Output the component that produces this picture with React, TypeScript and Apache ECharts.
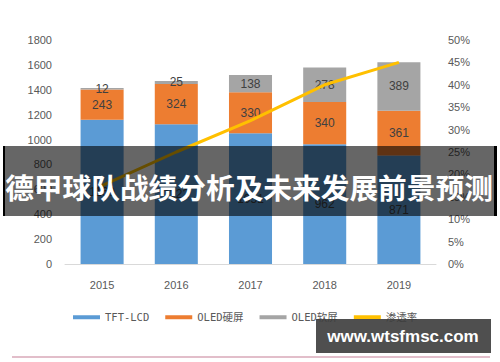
import React, { useEffect, useRef } from "react";
import * as echarts from "echarts";

const years = ["2015", "2016", "2017", "2018", "2019"];
const tftLcd = [1160, 1122, 1051, 962, 871];
const oledHard = [243, 324, 330, 340, 361];
const oledSoft = [12, 25, 138, 278, 389];
const penetration = [17.5, 25, 32, 40, 45];
const seriesNames = ["TFT-LCD", "OLED硬屏", "OLED软屏", "渗透率"];
const bannerTitle = "德甲球队战绩分析及未来发展前景预测";
const watermark = "www.wtsfmsc.com";

export default function App() {
  const ref = useRef<HTMLDivElement>(null);
  useEffect(() => {
    if (!ref.current) return;
    const chart = echarts.init(ref.current, null, { renderer: "svg" });
    const labelStyle = {
      show: true,
      position: "inside" as const,
      color: "#404040",
      fontSize: 12,
      fontFamily: "Liberation Sans, Arial, sans-serif",
    };
    chart.setOption({
      animation: false,
      backgroundColor: "#ffffff",
      grid: { left: 65, right: 64, top: 40, bottom: 98 },
      legend: {
        left: 73,
        top: 312,
        padding: 0,
        itemWidth: 27,
        itemHeight: 4,
        itemGap: 16,
        icon: "rect",
        textStyle: {
          color: "#595959",
          fontSize: 10.5,
          fontFamily: "DejaVu Sans Mono, Noto Sans CJK SC, monospace",
        },
        data: seriesNames,
      },
      xAxis: {
        type: "category",
        data: years,
        axisTick: { show: false },
        axisLine: { lineStyle: { color: "#d9d9d9", width: 1 } },
        axisLabel: { color: "#595959", fontSize: 11, margin: 15, fontFamily: "Liberation Sans, Arial, sans-serif" },
      },
      yAxis: [
        {
          type: "value",
          min: 0,
          max: 1800,
          interval: 200,
          splitLine: { show: false },
          axisLine: { show: false },
          axisTick: { show: false },
          axisLabel: {
            color: "#595959",
            fontSize: 11,
            margin: 13,
            formatter: (v: number) => String(v),
            fontFamily: "Liberation Sans, Arial, sans-serif",
          },
        },
        {
          type: "value",
          min: 0,
          max: 50,
          interval: 5,
          splitLine: { show: false },
          axisLine: { show: false },
          axisTick: { show: false },
          axisLabel: {
            color: "#595959",
            fontSize: 11,
            margin: 12,
            formatter: "{value}%",
            fontFamily: "Liberation Sans, Arial, sans-serif",
          },
        },
      ],
      series: [
        {
          name: seriesNames[0],
          type: "bar",
          stack: "t",
          data: tftLcd,
          barWidth: "58%",
          itemStyle: { color: "#5b9bd5" },
          label: labelStyle,
        },
        {
          name: seriesNames[1],
          type: "bar",
          stack: "t",
          data: oledHard,
          itemStyle: { color: "#ed7d31" },
          label: labelStyle,
        },
        {
          name: seriesNames[2],
          type: "bar",
          stack: "t",
          data: oledSoft,
          itemStyle: { color: "#a5a5a5" },
          label: labelStyle,
        },
        {
          name: seriesNames[3],
          type: "line",
          yAxisIndex: 1,
          data: penetration,
          symbol: "none",
          lineStyle: { color: "#ffc000", width: 3 },
          itemStyle: { color: "#ffc000" },
          z: 5,
        },
      ],
      graphic: [
        {
          type: "rect",
          z: 100,
          shape: { x: 5, y: 146, width: 489, height: 70 },
          style: { fill: "rgba(0,0,0,0.6)" },
        },
        {
          type: "rect",
          z: 100,
          shape: { x: 3, y: 146, width: 2, height: 70 },
          style: { fill: "#000000" },
        },
        {
          type: "rect",
          z: 100,
          shape: { x: 494, y: 146, width: 3, height: 70 },
          style: { fill: "#000000" },
        },
        {
          type: "text",
          z: 101,
          x: 249,
          y: 186,
          style: {
            text: bannerTitle,
            fill: "#ffffff",
            fontSize: 28.7,
            fontWeight: "bold",
            fontFamily: "Noto Sans CJK SC, sans-serif",
            align: "center",
            verticalAlign: "middle",
          },
        },
        {
          type: "line",
          z: 100,
          shape: { x1: 12, y1: 357, x2: 490, y2: 357 },
          style: { stroke: "#d9a9b9", lineWidth: 1.5 },
        },
        {
          type: "rect",
          z: 100,
          shape: { x: 316, y: 319, width: 175, height: 34 },
          style: { fill: "rgba(60,60,60,0.9)" },
        },
        {
          type: "text",
          z: 101,
          x: 403,
          y: 336,
          style: {
            text: watermark,
            fill: "#ffffff",
            fontSize: 17,
            fontWeight: "bold",
            fontFamily: "Liberation Sans, Arial, sans-serif",
            align: "center",
            verticalAlign: "middle",
          },
        },
      ],
    });
    return () => chart.dispose();
  }, []);
  return (
    <div
      ref={ref}
      style={{ position: "fixed", left: 0, top: 0, width: 500, height: 362 }}
    />
  );
}
